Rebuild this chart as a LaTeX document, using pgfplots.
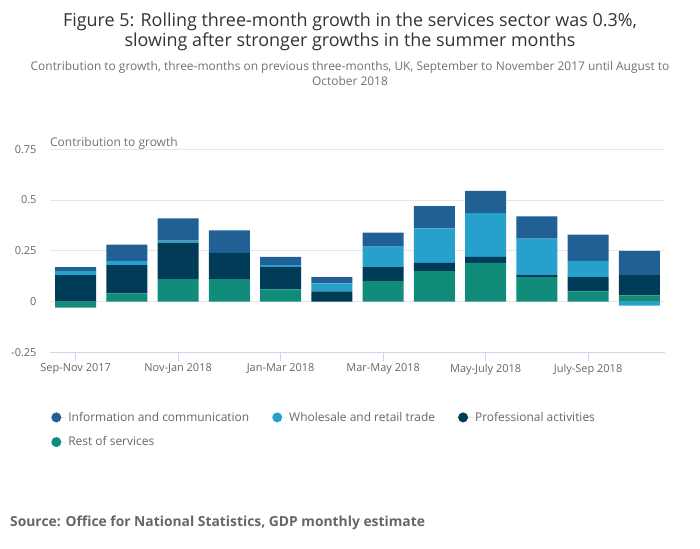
\documentclass[border=0pt]{standalone}
\usepackage{pgfplots}
\pgfplotsset{compat=1.18}
\usepackage{fontspec}
\setmainfont{Open Sans}
\definecolor{info}{HTML}{206095}
\definecolor{whole}{HTML}{27A0CC}
\definecolor{prof}{HTML}{003C57}
\definecolor{rest}{HTML}{118C7B}
\definecolor{gridgray}{HTML}{E6E6E6}
\definecolor{axisblue}{HTML}{CCD6EB}
\definecolor{labelgray}{HTML}{666666}
\definecolor{subgray}{HTML}{707070}
\definecolor{titlegray}{HTML}{333333}
\begin{document}
\begin{tikzpicture}
\path[use as bounding box] (0,0) rectangle (700bp,549bp);
\node[anchor=base, font=\fontsize{18}{22}\selectfont, text=titlegray] at (350bp,522bp) {Figure 5: Rolling three-month growth in the services sector was 0.3\%,};
\node[anchor=base, font=\fontsize{18}{22}\selectfont, text=titlegray] at (350bp,502bp) {slowing after stronger growths in the summer months};
\node[anchor=base, font=\fontsize{12}{14}\selectfont, text=subgray] at (350bp,478bp) {Contribution to growth, three-months on previous three-months, UK, September to November 2017 until August to};
\node[anchor=base, font=\fontsize{12}{14}\selectfont, text=subgray] at (350bp,463bp) {October 2018};
\node[anchor=base west, inner sep=0pt, font=\fontsize{12}{14}\selectfont, text=subgray] at (50bp,402bp) {Contribution to growth};
\node[anchor=base west, inner sep=0pt, font=\bfseries\fontsize{13.9}{16}\selectfont, text=labelgray] at (10bp,23bp) {Source: Office for National Statistics, GDP monthly estimate};
\begin{axis}[
  at={(50bp,196.7bp)}, anchor=south west,
  scale only axis, width=615bp, height=203bp,
  ybar stacked, bar width=0.8,
  xmin=-0.5, xmax=11.5, ymin=-0.25, ymax=0.75,
  ytick={-0.25,0,0.25,0.5,0.75},
  xtick={0,2,4,6,8,10},
  xticklabels={Sep-Nov 2017, Nov-Jan 2018, Jan-Mar 2018, Mar-May 2018, May-July 2018, July-Sep 2018},
  ymajorgrids, grid style={draw=gridgray, line width=0.8bp},
  axis x line*=bottom, axis y line*=left,
  x axis line style={draw=axisblue, line width=0.8bp, -},
  y axis line style={draw=none},
  ytick style={draw=none},
  xtick style={draw=axisblue, line width=0.8bp},
  xtick align=outside, major tick length=9bp,
  /pgf/number format/assume math mode=true,
  /pgf/number format/fixed,
  tick label style={font=\fontsize{11}{13}\selectfont, text=labelgray},
  yticklabel style={xshift=-10bp},
  xticklabel style={yshift=1bp},
  legend style={at={(-0.003,-0.274)}, anchor=north west, draw=none, fill=none,
    font=\fontsize{12}{14}\selectfont, text=labelgray, row sep=10bp,
    /tikz/every even column/.append style={column sep=21bp}},
  legend columns=3,
  legend cell align=left,
  legend image code/.code={\fill[#1] (5bp,0bp) circle (5bp); \path (0bp,0bp) -- (15bp,0bp);},
]
\addlegendimage{fill=info, draw=none}\addlegendentry{Information and communication}
\addlegendimage{fill=whole, draw=none}\addlegendentry{Wholesale and retail trade}
\addlegendimage{fill=prof, draw=none}\addlegendentry{Professional activities}
\addlegendimage{fill=rest, draw=none}\addlegendentry{Rest of services}
\addplot[fill=rest, draw=none, forget plot] coordinates {(0,-0.03) (1,0.04) (2,0.11) (3,0.11) (4,0.06) (5,0) (6,0.10) (7,0.15) (8,0.19) (9,0.12) (10,0.05) (11,0.03)};
\addplot[fill=prof, draw=none, forget plot] coordinates {(0,0.13) (1,0.14) (2,0.18) (3,0.13) (4,0.11) (5,0.05) (6,0.07) (7,0.04) (8,0.03) (9,0.01) (10,0.07) (11,0.10)};
\addplot[fill=whole, draw=none, forget plot] coordinates {(0,0.02) (1,0.02) (2,0.01) (3,0) (4,0.01) (5,0.04) (6,0.10) (7,0.17) (8,0.215) (9,0.18) (10,0.08) (11,-0.02)};
\addplot[fill=info, draw=none, forget plot] coordinates {(0,0.02) (1,0.08) (2,0.11) (3,0.11) (4,0.04) (5,0.03) (6,0.07) (7,0.11) (8,0.11) (9,0.11) (10,0.13) (11,0.12)};
\end{axis}
\end{tikzpicture}
\end{document}
